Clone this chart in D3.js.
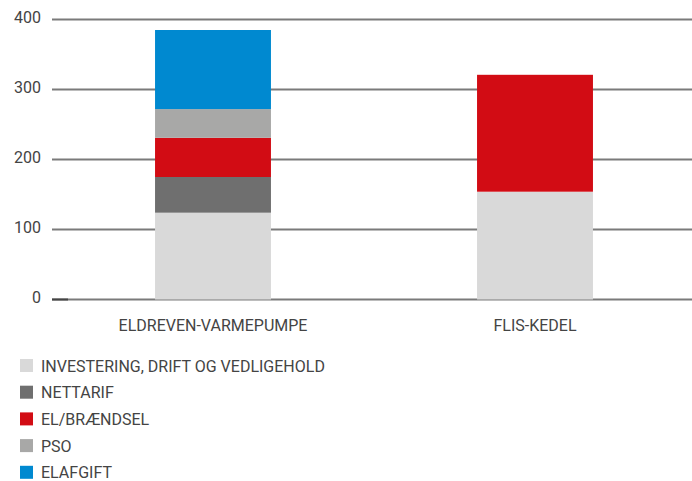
<!DOCTYPE html>
<html>
<head>
<meta charset="utf-8">
<script src="https://cdn.jsdelivr.net/npm/d3@7"></script>
<style>
  body { margin: 0; background: #fff; }
  svg text {
    font-family: "Roboto", "DejaVu Sans", sans-serif;
    fill: #444;
  }
</style>
</head>
<body>
<svg id="chart" width="692" height="481"></svg>
<script>
const categories = ["ELDREVEN-VARMEPUMPE", "FLIS-KEDEL"];
const seriesNames = ["INVESTERING, DRIFT OG VEDLIGEHOLD", "NETTARIF", "EL/BRÆNDSEL", "PSO", "ELAFGIFT"];
const investering = [124, 154];
const nettarif = [51, 0];
const elBraendsel = [56, 167];
const pso = [41, 0];
const elafgift = [113, 0];
const yTicks = [0, 100, 200, 300, 400];

const colors = ["#d9d9d9", "#6f6f6f", "#d20c14", "#a8a8a7", "#0089d0"];

// table for d3.stack
const table = categories.map((c, i) => ({
  cat: c,
  s0: investering[i], s1: nettarif[i], s2: elBraendsel[i], s3: pso[i], s4: elafgift[i]
}));
const keys = ["s0", "s1", "s2", "s3", "s4"];

const svg = d3.select("#chart");

const x = d3.scaleBand()
  .domain(categories)
  .range([52, 696])
  .paddingInner(0.64)
  .paddingOuter(0.32);

const y = d3.scaleLinear().domain([0, 400]).range([299.5, 19.5]);

// gridlines
svg.append("g")
  .selectAll("line")
  .data(yTicks)
  .join("line")
  .attr("x1", 52)
  .attr("x2", 692)
  .attr("y1", d => y(d))
  .attr("y2", d => y(d))
  .attr("stroke", "#7a7a7a")
  .attr("stroke-width", 2);

// dark stub at the zero line
svg.append("line")
  .attr("x1", 52).attr("x2", 68)
  .attr("y1", y(0)).attr("y2", y(0))
  .attr("stroke", "#444").attr("stroke-width", 2);

// tick labels
svg.append("g")
  .selectAll("text")
  .data(yTicks)
  .join("text")
  .attr("x", 41)
  .attr("y", d => y(d) + 3)
  .attr("text-anchor", "end")
  .attr("font-size", 16)
  .text(d => d);

// stacked bars
const stacked = d3.stack().keys(keys)(table);

svg.append("g")
  .selectAll("g")
  .data(stacked)
  .join("g")
  .attr("fill", (d, i) => colors[i])
  .selectAll("rect")
  .data(d => d.filter(p => p[1] > p[0]))
  .join("rect")
  .attr("x", d => x(d.data.cat))
  .attr("width", x.bandwidth())
  .attr("y", d => y(d[1]))
  .attr("height", d => y(d[0]) - y(d[1]));

// category labels
svg.append("g")
  .selectAll("text")
  .data(categories)
  .join("text")
  .attr("x", d => x(d) + x.bandwidth() / 2)
  .attr("y", 331)
  .attr("text-anchor", "middle")
  .attr("font-size", 16)
  .text(d => d);

// legend
const legend = svg.append("g")
  .selectAll("g")
  .data(seriesNames)
  .join("g")
  .attr("transform", (d, i) => `translate(20, ${359 + i * 26.7})`);

legend.append("rect")
  .attr("width", 13)
  .attr("height", 13)
  .attr("fill", (d, i) => colors[i]);

legend.append("text")
  .attr("x", 21)
  .attr("y", 12.5)
  .attr("font-size", 16)
  .text(d => d);
</script>
</body>
</html>
